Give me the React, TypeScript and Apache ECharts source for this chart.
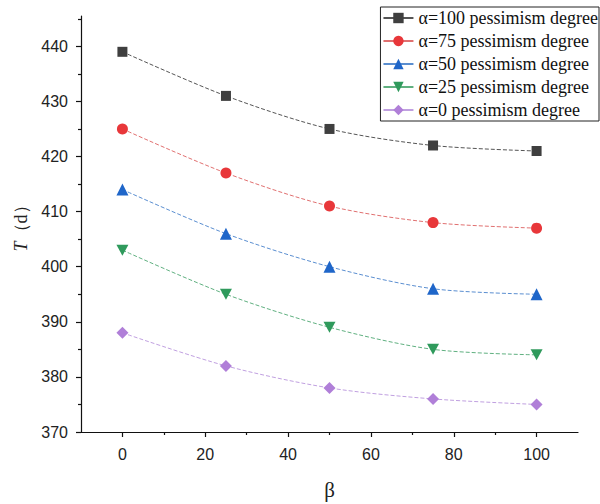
import React, { useEffect, useRef } from "react";
import * as echarts from "echarts";

const betaValues = [0, 25, 50, 75, 100];
const seriesNames = [
  "α=100 pessimism degree",
  "α=75 pessimism degree",
  "α=50 pessimism degree",
  "α=25 pessimism degree",
  "α=0 pessimism degree",
];
const alpha100 = [439, 431, 425, 422, 421];
const alpha75 = [425, 417, 411, 408, 407];
const alpha50 = [414, 406, 400, 396, 395];
const alpha25 = [403, 395, 389, 385, 384];
const alpha0 = [388, 382, 378, 376, 375];
const xMajorTicks = [0, 20, 40, 60, 80, 100];
const xMinorTicks = [10, 30, 50, 70, 90];
const yMajorTicks = [370, 380, 390, 400, 410, 420, 430, 440];
const yMinorTicks = [375, 385, 395, 405, 415, 425, 435, 445];

const colors = ["#3f3f3f", "#e8373a", "#1f66c9", "#2f9a5c", "#b07fd8"];
const lineColors = ["#555555", "#e07070", "#5a8ed0", "#60b080", "#c0a0e0"];
const symbols = ["rect", "circle", "triangle", "path://M0,0 L10,0 L5,9 Z", "diamond"];
const symbolSizes = [10, 11, 12, 12, 12];

const serif = "'Liberation Serif', 'DejaVu Serif', serif";

export default function App() {
  const ref = useRef<HTMLDivElement>(null);
  useEffect(() => {
    if (!ref.current) return;
    const chart = echarts.init(ref.current, null, { renderer: "svg" });
    const allData = [alpha100, alpha75, alpha50, alpha25, alpha0];
    const axisCommon = {
      type: "value",
      min: -10,
      max: 110,
    };
    chart.setOption({
      animation: false,
      backgroundColor: "#ffffff",
      grid: { left: 81, right: 22, top: 16, bottom: 72, outerBoundsMode: "none", containLabel: false },
      legend: {
        right: 1,
        top: 7,
        orient: "vertical",
        borderColor: "#222",
        borderWidth: 1,
        padding: [2, 1, 2, 2],
        itemGap: 5,
        itemWidth: 30,
        itemHeight: 13,
        lineStyle: { type: "solid" },
        textStyle: { fontFamily: serif, fontSize: 18, color: "#111" },
        data: seriesNames,
      },
      xAxis: [
        {
          ...axisCommon,
          name: "β",
          nameLocation: "middle",
          nameGap: 47,
          nameTextStyle: { fontFamily: serif, fontSize: 21, color: "#222" },
          axisLine: { show: true, onZero: false, lineStyle: { color: "#111", width: 1.2 } },
          axisTick: { show: true, length: 5, customValues: xMajorTicks, lineStyle: { color: "#111", width: 1.2 } },
          axisLabel: {
            customValues: xMajorTicks,
            margin: 14,
            fontFamily: "Liberation Sans",
            fontSize: 16,
            color: "#222",
          },
          splitLine: { show: false },
        },
        {
          ...axisCommon,
          position: "bottom",
          axisLine: { show: false, onZero: false },
          axisTick: { show: true, length: 3, customValues: xMinorTicks, lineStyle: { color: "#111", width: 1.2 } },
          axisLabel: { show: false },
          splitLine: { show: false },
        },
      ],
      yAxis: [
        {
          type: "value",
          min: 370,
          max: 445.5,
          name: "{i|T}（d）",
          nameLocation: "middle",
          nameGap: 47,
          nameRotate: 90,
          nameTextStyle: {
            fontFamily: serif,
            fontSize: 18,
            color: "#222",
            rich: { i: { fontFamily: serif, fontStyle: "italic", fontSize: 18, color: "#222" } },
          },
          axisLine: { show: true, onZero: false, lineStyle: { color: "#111", width: 1.2 } },
          axisTick: { show: true, length: 5, customValues: yMajorTicks, lineStyle: { color: "#111", width: 1.2 } },
          axisLabel: {
            customValues: yMajorTicks,
            margin: 13,
            fontFamily: "Liberation Sans",
            fontSize: 16,
            color: "#222",
          },
          splitLine: { show: false },
        },
        {
          type: "value",
          min: 370,
          max: 445.5,
          position: "left",
          axisLine: { show: false, onZero: false },
          axisTick: { show: true, length: 3, customValues: yMinorTicks, lineStyle: { color: "#111", width: 1.2 } },
          axisLabel: { show: false },
          splitLine: { show: false },
        },
      ],
      series: seriesNames.map((name, i) => ({
        name,
        type: "line",
        xAxisIndex: 0,
        yAxisIndex: 0,
        data: betaValues.map((b, j) => [b, allData[i][j]]),
        smooth: 0.3,
        symbol: symbols[i],
        symbolSize: i === 3 ? [12, 11] : symbolSizes[i],
        itemStyle: { color: colors[i] },
        lineStyle: { color: lineColors[i], width: 1, type: [4, 2] },
      })),
    });
    return () => chart.dispose();
  }, []);
  return <div ref={ref} style={{ width: 600, height: 504, position: "absolute", left: 0, top: 0 }} />;
}
